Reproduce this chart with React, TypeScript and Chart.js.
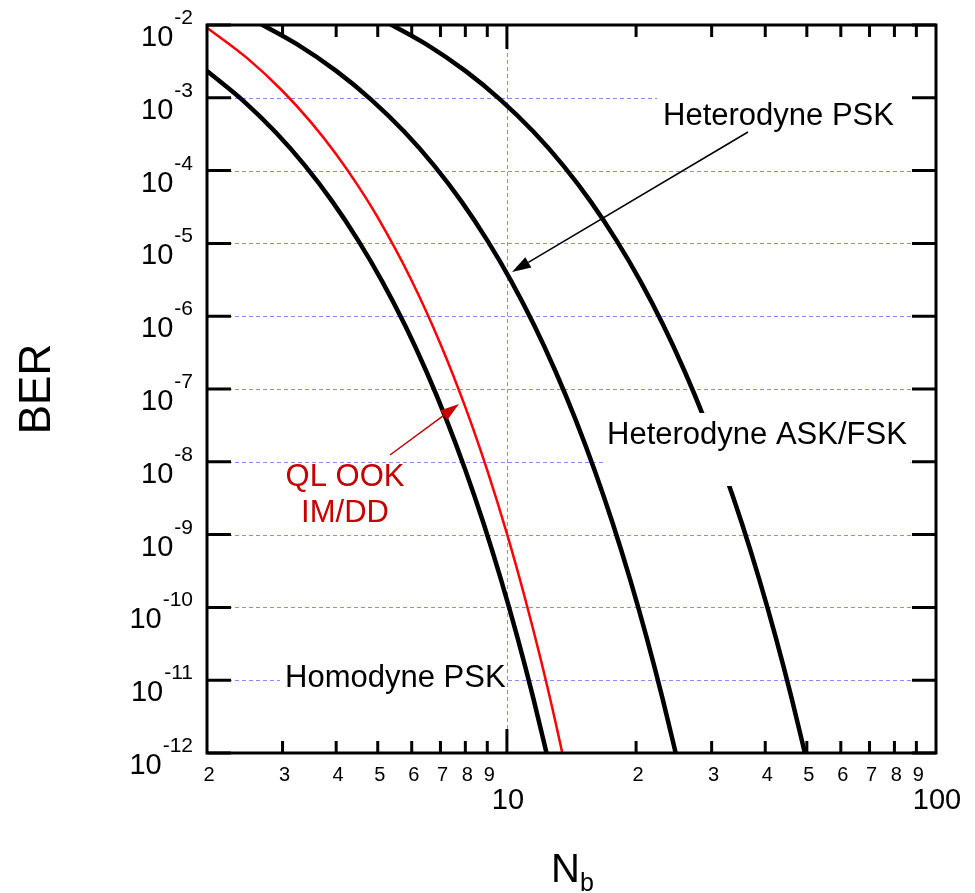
import React, { useEffect, useRef } from "react";
import { Chart, registerables } from "chart.js";

Chart.register(...registerables);

// ---- Data ----
const homodynePskX = [2.0, 2.42, 2.88, 3.38, 3.92, 4.5, 5.12, 5.78, 6.48, 7.22, 8.0, 8.82, 9.68, 10.58, 11.52, 12.5];
const homodynePskY = [2.34e-3, 9.31e-4, 3.44e-4, 1.18e-4, 3.75e-5, 1.1e-5, 3.01e-6, 7.61e-7, 1.78e-7, 3.85e-8, 7.71e-9, 1.43e-9, 2.44e-10, 3.87e-11, 5.67e-12, 7.69e-13];

const qlOokX = [2, 2.5, 3, 3.5, 4, 4.5, 5, 6, 7, 8, 9, 10, 11, 12, 13, 14];
const qlOokY = [9.16e-3, 3.37e-3, 1.24e-3, 4.56e-4, 1.68e-4, 6.17e-5, 2.27e-5, 3.07e-6, 4.16e-7, 5.63e-8, 7.61e-9, 1.03e-9, 1.39e-10, 1.89e-11, 2.55e-12, 3.46e-13];

const heterodynePskX = [2.56, 3.24, 4.0, 4.84, 5.76, 6.76, 7.84, 9.0, 10.24, 11.56, 12.96, 14.44, 16.0, 17.64, 19.36, 21.16, 23.04, 25.0];
const heterodynePskY = [1.18e-2, 5.46e-3, 2.34e-3, 9.31e-4, 3.44e-4, 1.18e-4, 3.75e-5, 1.1e-5, 3.01e-6, 7.61e-7, 1.78e-7, 3.85e-8, 7.71e-9, 1.43e-9, 2.44e-10, 3.87e-11, 5.67e-12, 7.69e-13];

const heterodyneAskX = [5.12, 6.48, 8.0, 9.68, 11.52, 13.52, 15.68, 18.0, 20.48, 23.12, 25.92, 28.88, 32.0, 35.28, 38.72, 42.32, 46.08, 50.0];
const heterodyneAskY = [1.18e-2, 5.46e-3, 2.34e-3, 9.31e-4, 3.44e-4, 1.18e-4, 3.75e-5, 1.1e-5, 3.01e-6, 7.61e-7, 1.78e-7, 3.85e-8, 7.71e-9, 1.43e-9, 2.44e-10, 3.87e-11, 5.67e-12, 7.69e-13];

const yExponents = [-12, -11, -10, -9, -8, -7, -6, -5, -4, -3, -2];
const xMinorTicks = [3, 4, 5, 6, 7, 8, 9, 20, 30, 40, 50, 60, 70, 80, 90];
const xMajorTicks = [10];
const xSmallLabels = [2, 3, 4, 5, 6, 7, 8, 9, 20, 30, 40, 50, 60, 70, 80, 90];
const xSmallLabelText = ["2", "3", "4", "5", "6", "7", "8", "9", "2", "3", "4", "5", "6", "7", "8", "9"];
const xBigLabels = [10, 100];
const xGridLines = [10];

const FONT = '"Liberation Sans", Arial, sans-serif';
const GRID = "#8a8aff";
const DARKRED = "#c80000";

function toPoints(xs: number[], ys: number[]) {
  return xs.map((x, i) => ({ x, y: ys[i] }));
}

function arrow(ctx: CanvasRenderingContext2D, x0: number, y0: number, x1: number, y1: number, color: string) {
  const ang = Math.atan2(y1 - y0, x1 - x0);
  const len = 19;
  const hw = 6;
  const bx = x1 - len * Math.cos(ang);
  const by = y1 - len * Math.sin(ang);
  ctx.save();
  ctx.strokeStyle = color;
  ctx.fillStyle = color;
  ctx.lineWidth = 1.5;
  ctx.beginPath();
  ctx.moveTo(x0, y0);
  ctx.lineTo(bx, by);
  ctx.stroke();
  ctx.beginPath();
  ctx.moveTo(x1, y1);
  ctx.lineTo(bx + hw * Math.sin(ang), by - hw * Math.cos(ang));
  ctx.lineTo(bx - hw * Math.sin(ang), by + hw * Math.cos(ang));
  ctx.closePath();
  ctx.fill();
  ctx.restore();
}

const drawPlugin = {
  id: "berDecor",
  beforeDatasetsDraw(chart: any) {
    const { ctx, chartArea: a, scales } = chart;
    const xs = scales.x;
    const ys = scales.y;
    ctx.save();
    ctx.strokeStyle = GRID;
    ctx.lineWidth = 1;
    ctx.setLineDash([4, 3]);
    for (const e of yExponents) {
      const py = Math.round(ys.getPixelForValue(Math.pow(10, e))) + 0.5;
      ctx.beginPath();
      ctx.moveTo(a.left, py);
      ctx.lineTo(a.right, py);
      ctx.stroke();
    }
    for (const v of xGridLines) {
      const px = Math.round(xs.getPixelForValue(v)) + 0.5;
      ctx.beginPath();
      ctx.moveTo(px, a.top);
      ctx.lineTo(px, a.bottom);
      ctx.stroke();
    }
    ctx.restore();
  },
  afterDatasetsDraw(chart: any) {
    const { ctx } = chart;
    ctx.save();
    ctx.fillStyle = "#ffffff";
    ctx.fillRect(657, 89, 254, 43);
    ctx.fillRect(603, 413, 307, 73);
    ctx.fillRect(280, 661, 226, 34);
    ctx.fillStyle = "#000000";
    ctx.font = `31px ${FONT}`;
    ctx.textAlign = "left";
    ctx.textBaseline = "alphabetic";
    ctx.fillText("Heterodyne PSK", 663, 125);
    ctx.fillText("Heterodyne ASK/FSK", 607, 444);
    ctx.fillText("Homodyne PSK", 285, 687);
    ctx.fillStyle = DARKRED;
    ctx.textAlign = "center";
    ctx.fillText("QL OOK", 345, 486);
    ctx.fillText("IM/DD", 345, 522);
    ctx.restore();
  },
  afterDraw(chart: any) {
    const { ctx, chartArea: a, scales } = chart;
    const xs = scales.x;
    const ys = scales.y;
    ctx.save();
    ctx.strokeStyle = "#000000";
    ctx.lineWidth = 3;
    ctx.setLineDash([]);
    // ticks
    ctx.beginPath();
    for (const e of yExponents) {
      const py = ys.getPixelForValue(Math.pow(10, e));
      ctx.moveTo(a.left, py);
      ctx.lineTo(a.left + 24, py);
      ctx.moveTo(a.right, py);
      ctx.lineTo(a.right - 24, py);
    }
    for (const v of xMinorTicks) {
      const px = xs.getPixelForValue(v);
      ctx.moveTo(px, a.bottom);
      ctx.lineTo(px, a.bottom - 12);
      ctx.moveTo(px, a.top);
      ctx.lineTo(px, a.top + 12);
    }
    for (const v of xMajorTicks) {
      const px = xs.getPixelForValue(v);
      ctx.moveTo(px, a.bottom);
      ctx.lineTo(px, a.bottom - 24);
      ctx.moveTo(px, a.top);
      ctx.lineTo(px, a.top + 24);
    }
    ctx.stroke();
    // frame
    ctx.strokeRect(a.left, a.top, a.right - a.left, a.bottom - a.top);

    // y tick labels 10^e
    ctx.fillStyle = "#000000";
    ctx.textBaseline = "alphabetic";
    for (const e of yExponents) {
      const py = ys.getPixelForValue(Math.pow(10, e));
      const sup = String(e);
      ctx.font = `21px ${FONT}`;
      const sw = ctx.measureText(sup).width;
      const sx = 193 - sw;
      ctx.textAlign = "left";
      ctx.fillText(sup, sx, py - 1);
      ctx.font = `29px ${FONT}`;
      ctx.textAlign = "right";
      ctx.fillText("10", sx - 1, py + 21);
    }

    // x tick labels
    ctx.textAlign = "center";
    ctx.font = `20px ${FONT}`;
    xSmallLabels.forEach((v, i) => {
      const px = xs.getPixelForValue(v);
      ctx.fillText(xSmallLabelText[i], px + 2, 781);
    });
    ctx.font = `29px ${FONT}`;
    for (const v of xBigLabels) {
      const px = xs.getPixelForValue(v);
      ctx.fillText(String(v), px + 1, 809);
    }

    // arrows
    arrow(ctx, 748, 132, 512, 272, "#000000");
    arrow(ctx, 390, 455, 459, 404, DARKRED);

    // axis titles
    ctx.save();
    ctx.translate(38, 389);
    ctx.rotate(-Math.PI / 2);
    ctx.textAlign = "center";
    ctx.textBaseline = "middle";
    ctx.font = `44px ${FONT}`;
    ctx.fillText("BER", 0, 0);
    ctx.restore();

    ctx.textAlign = "left";
    ctx.textBaseline = "alphabetic";
    ctx.font = `40px ${FONT}`;
    ctx.fillText("N", 551, 882);
    ctx.font = `25px ${FONT}`;
    ctx.fillText("b", 580, 891);
    ctx.restore();
  },
};

export default function App() {
  const ref = useRef<HTMLCanvasElement | null>(null);
  useEffect(() => {
    document.body.style.margin = "0";
    const canvas = ref.current;
    if (!canvas) return;
    const chart = new Chart(canvas, {
      type: "scatter",
      data: {
        datasets: [
          {
            label: "Homodyne PSK",
            data: toPoints(homodynePskX, homodynePskY),
            borderColor: "#000000",
            borderWidth: 4.5,
            showLine: true,
            pointRadius: 0,
            cubicInterpolationMode: "monotone",
            clip: 0,
          },
          {
            label: "QL OOK IM/DD",
            data: toPoints(qlOokX, qlOokY),
            borderColor: "#ff0000",
            borderWidth: 2.5,
            showLine: true,
            pointRadius: 0,
            cubicInterpolationMode: "monotone",
            clip: 0,
          },
          {
            label: "Heterodyne PSK",
            data: toPoints(heterodynePskX, heterodynePskY),
            borderColor: "#000000",
            borderWidth: 4.5,
            showLine: true,
            pointRadius: 0,
            cubicInterpolationMode: "monotone",
            clip: 0,
          },
          {
            label: "Heterodyne ASK/FSK",
            data: toPoints(heterodyneAskX, heterodyneAskY),
            borderColor: "#000000",
            borderWidth: 4.5,
            showLine: true,
            pointRadius: 0,
            cubicInterpolationMode: "monotone",
            clip: 0,
          },
        ],
      } as any,
      options: {
        responsive: false,
        animation: false,
        events: [],
        layout: { padding: { left: 207, top: 25, right: 39, bottom: 140 } },
        scales: {
          x: { type: "logarithmic", min: 2, max: 100, display: false },
          y: { type: "logarithmic", min: 1e-12, max: 1e-2, display: false },
        },
        plugins: { legend: { display: false }, tooltip: { enabled: false } },
      } as any,
      plugins: [drawPlugin as any],
    });
    return () => chart.destroy();
  }, []);
  return (
    <div style={{ width: 975, height: 893, background: "#fff" }}>
      <canvas ref={ref} width={975} height={893} style={{ display: "block" }} />
    </div>
  );
}
